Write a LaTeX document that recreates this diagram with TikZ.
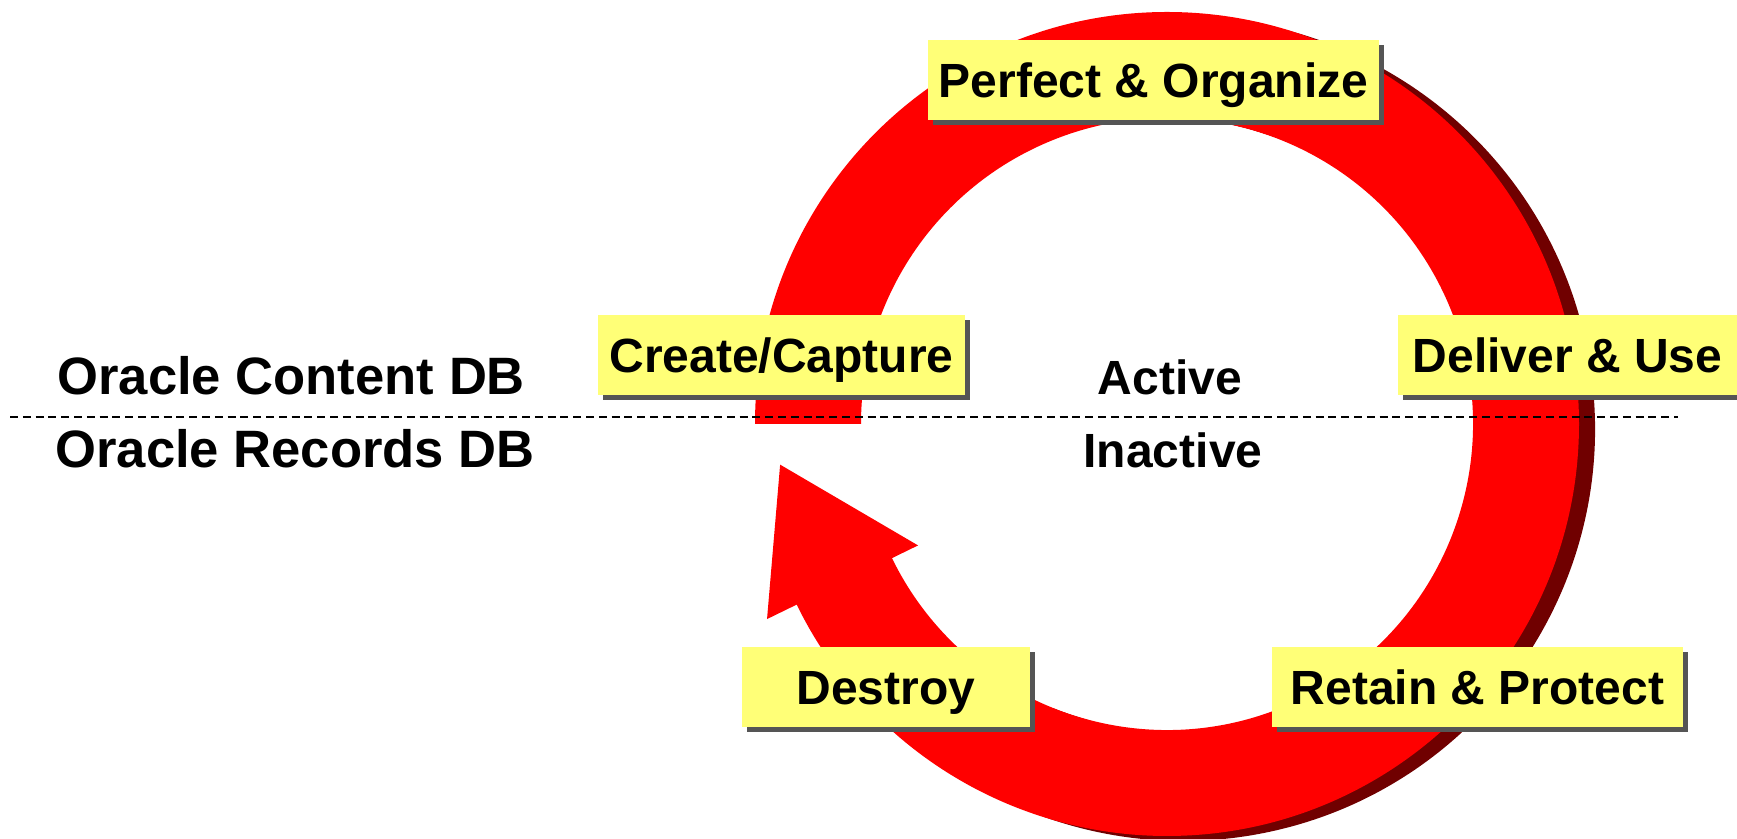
\documentclass[tikz,border=0pt]{standalone}
\usepackage{fontspec}
\setmainfont{Liberation Sans}
\usetikzlibrary{shadows}
\definecolor{ringred}{RGB}{255,0,0}
\definecolor{ringshade}{RGB}{112,0,0}
\definecolor{notebg}{RGB}{255,255,119}
\definecolor{notedrop}{RGB}{85,85,85}
\begin{document}
\begin{tikzpicture}[x=0.5pt, y=0.5pt,
		stage/.style={fill=notebg, inner sep=0pt, minimum height=40pt, text height=17.2pt, text depth=0pt,
			font=\fontsize{24}{28}\selectfont\bfseries,
			drop shadow={shadow xshift=2.5pt, shadow yshift=-2.5pt, fill=notedrop, opacity=1}},
		zone/.style={font=\fontsize{24}{28}\selectfont\bfseries, anchor=base, inner sep=0pt},
		store/.style={font=\fontsize{26.3}{30}\selectfont\bfseries, anchor=base west, inner sep=0pt}]
	\useasboundingbox (0,0) rectangle (1737,839);
	\begin{scope}[shift={(1167,415)}]
		\fill[ringshade, shift={(16,-5)}] (100:412) arc[start angle=100, end angle=-115, radius=412]
			-- (-115:306) arc[start angle=-115, end angle=100, radius=306] -- cycle;
		\fill[white] (0,0) circle[radius=306];
		\fill[ringred] (180:412) arc[start angle=180, end angle=-154, radius=412]
			-- (-154:445) -- (-174:389) -- (-154:277)
			-- (-154:306) arc[start angle=-154, end angle=180, radius=306] -- cycle;
	\end{scope}
	\coordinate (split west) at (10,422);
	\coordinate (split east) at (1678,422);
	\draw[line width=1pt, dash pattern=on 4pt off 2.4pt] (split west) -- (split east);
	\node[store] (content) at (57,444) {Oracle Content DB};
	\node[store] (records) at (55,371) {Oracle Records DB};
	\node[zone] (active) at (1170,444) {Active};
	\node[zone] (inactive) at (1173,371) {Inactive};
	\node[stage, minimum width=225.5pt] (perfect) at (1153.5,758.5) {Perfect \& Organize};
	\node[stage, minimum width=183.5pt] (create) at (781.5,483.5) {Create/Capture};
	\node[stage, minimum width=169.5pt] (deliver) at (1567.5,483.5) {Deliver \& Use};
	\node[stage, minimum width=205.5pt] (retain) at (1477.5,151.5) {Retain \& Protect};
	\node[stage, minimum width=144pt] (destroy) at (886,151.5) {Destroy};
\end{tikzpicture}
\end{document}
